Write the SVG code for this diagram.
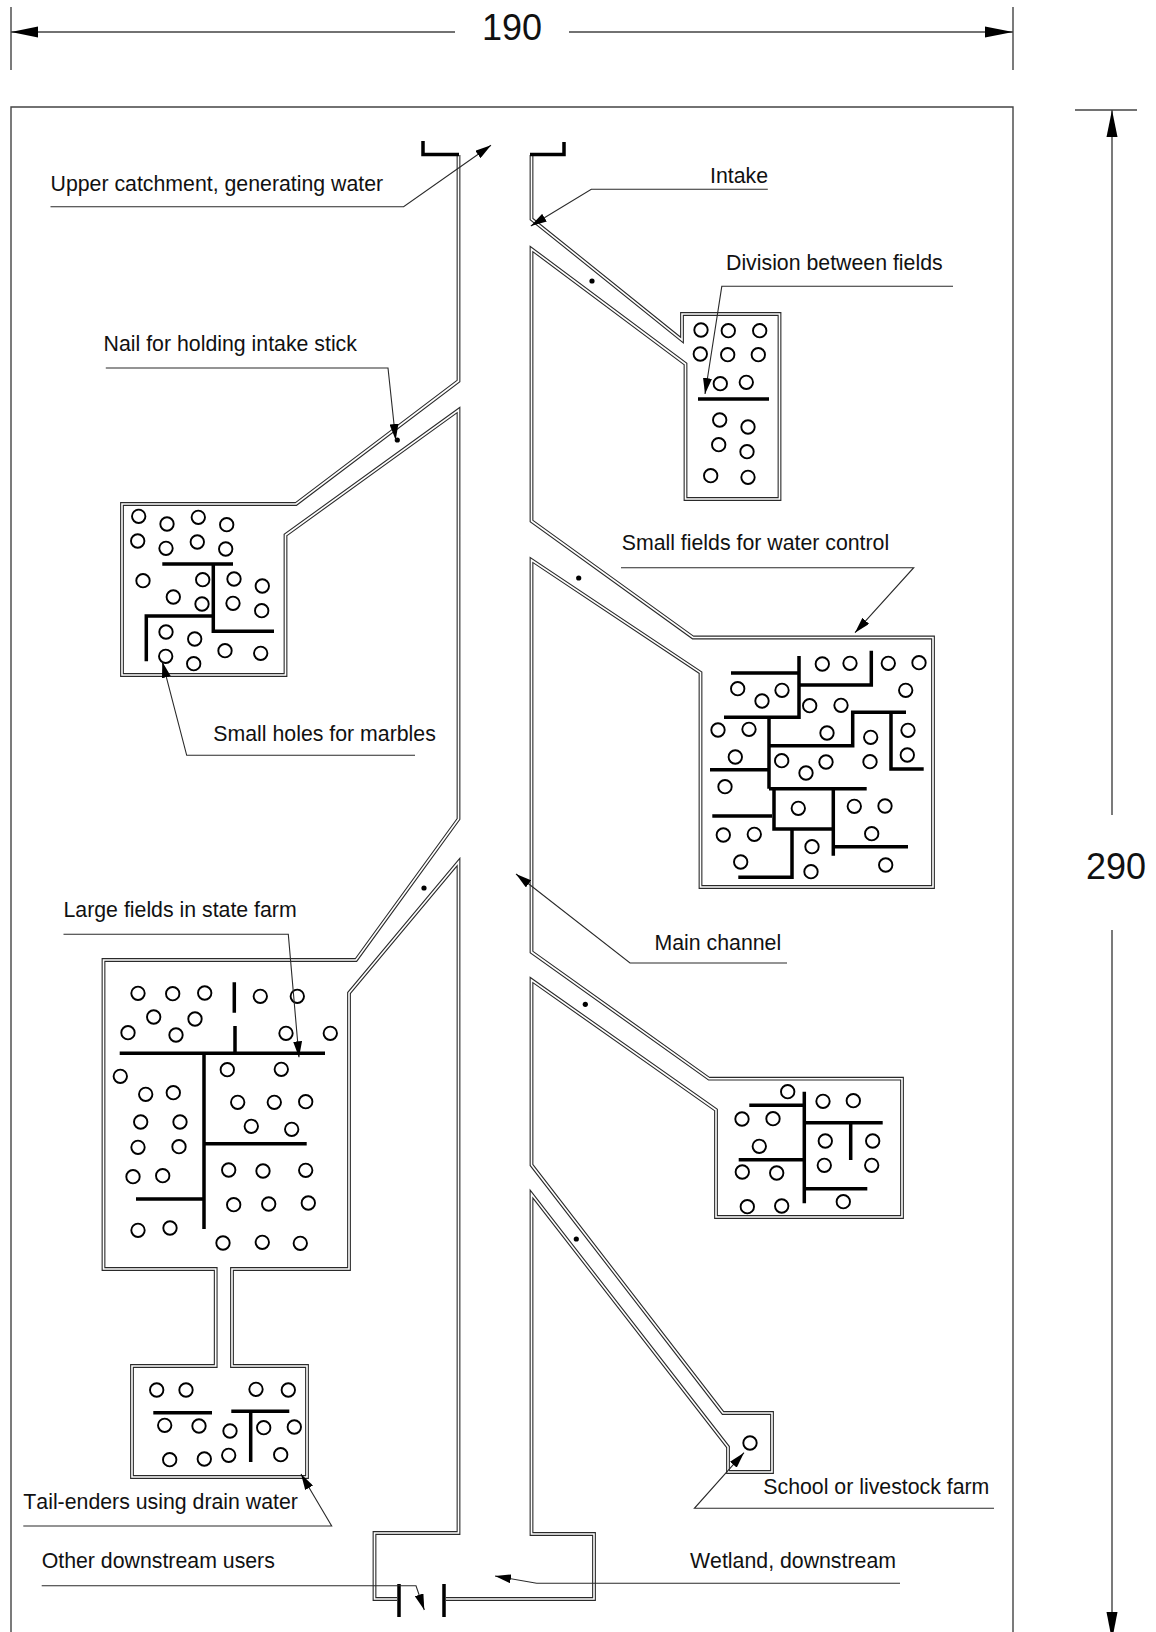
<svg xmlns="http://www.w3.org/2000/svg" xmlns:xlink="http://www.w3.org/1999/xlink" width="1156" height="1632" viewBox="0 0 1156 1632">
<style>
text{font-family:"Liberation Sans",Arial,sans-serif;font-size:21.3px;fill:#111;font-kerning:none}
.dim{font-size:36px}
.o{fill:none;stroke:#2a2a2a;stroke-width:3.8;stroke-linejoin:miter;stroke-miterlimit:12}
.i{fill:none;stroke:#fff;stroke-width:1.6;stroke-linejoin:miter;stroke-miterlimit:12}
.h{fill:#fff;stroke:#000;stroke-width:1.9}
.d{fill:#000}
.b{fill:none;stroke:#000;stroke-width:3.5;stroke-linejoin:miter}
.t{fill:none;stroke:#444;stroke-width:1.4}
.l{fill:none;stroke:#2a2a2a;stroke-width:1.1;marker-end:url(#ah)}
.a{fill:#000}
</style>
<defs>
<marker id="ah" markerUnits="userSpaceOnUse" viewBox="0 0 16 9" refX="16" refY="4.5" markerWidth="16" markerHeight="9" orient="auto"><path d="M0,0L16,4.5L0,9Z" fill="#000"/></marker>
<path id="wallL" d="M458.5,155V381L296,504H122V675H285.5V535L458.5,410V819L356,960H103.5V1269H215.7V1366H132V1477H307V1366H232V1269H349V993L458.5,862V1533H374.5V1599H397"/>
<path id="wallR" d="M531.5,155V219L682,340V314H779.5V499H685.5V364L531.5,249V521L693,637.5H933V887H700.5V672.7L531.5,560V952L709,1078.7H902V1217H716V1110L531.5,980V1165L723,1413H772V1472H728V1447L531.5,1194V1534H594V1599H446"/>
</defs>

<g id="frame">
<path class="t" d="M11,1632V107H1013V1632"/>
</g>

<g id="dimensions">
<path class="t" d="M11,7V70M1013,7V70M11,32H455M569,32H1013M1075,110H1137M1112,110V815M1112,930V1620"/>
<polygon class="a" points="11,32 38,26.5 38,37.5"/>
<polygon class="a" points="1013,32 985,26.5 985,37.5"/>
<polygon class="a" points="1112,110 1106.5,137 1117.5,137"/>
<polygon class="a" points="1106.5,1612 1117.5,1612 1113.6,1632 1110.4,1632"/>
<text class="dim" x="482" y="40">190</text>
<text class="dim" x="1086" y="879">290</text>
</g>

<g id="channel">
<use href="#wallL" class="o"/><use href="#wallR" class="o"/>
<use href="#wallL" class="i"/><use href="#wallR" class="i"/>
<path class="b" d="M423,141V154.5H459M530,154.5H564V142"/>
<path class="b" d="M399,1584V1617M444,1584V1617"/>
</g>

<g id="nails">
<circle class="d" cx="397.3" cy="440" r="2.6"/>
<circle class="d" cx="592" cy="281" r="2.6"/>
<circle class="d" cx="578.7" cy="578" r="2.6"/>
<circle class="d" cx="424" cy="888" r="2.6"/>
<circle class="d" cx="585.3" cy="1004.3" r="2.6"/>
<circle class="d" cx="576.3" cy="1239" r="2.6"/>
</g>

<g id="field-division">
<path class="b" d="M698,399H769"/>
<circle class="h" r="6.7" cx="701" cy="330"/><circle class="h" r="6.7" cx="728.3" cy="330.7"/><circle class="h" r="6.7" cx="759.7" cy="330.7"/>
<circle class="h" r="6.7" cx="700.3" cy="354"/><circle class="h" r="6.7" cx="727.7" cy="354.7"/><circle class="h" r="6.7" cx="758.3" cy="354.7"/>
<circle class="h" r="6.7" cx="720.3" cy="383.7"/><circle class="h" r="6.7" cx="746.3" cy="382.3"/>
<circle class="h" r="6.7" cx="719.7" cy="420"/><circle class="h" r="6.7" cx="748" cy="427"/>
<circle class="h" r="6.7" cx="718.7" cy="444.7"/><circle class="h" r="6.7" cx="747" cy="451.7"/>
<circle class="h" r="6.7" cx="710.7" cy="475.7"/><circle class="h" r="6.7" cx="748" cy="477.3"/>
</g>

<g id="field-left">
<path class="b" d="M162.3,564H233M213.3,564V631.3H274M146.3,661.3V616H213"/>
<circle class="h" r="6.7" cx="138.7" cy="516.3"/><circle class="h" r="6.7" cx="167" cy="524"/><circle class="h" r="6.7" cx="198.3" cy="517.3"/><circle class="h" r="6.7" cx="226.7" cy="524.7"/>
<circle class="h" r="6.7" cx="137.7" cy="541"/><circle class="h" r="6.7" cx="166" cy="548.3"/><circle class="h" r="6.7" cx="197.3" cy="542"/><circle class="h" r="6.7" cx="225.7" cy="549"/>
<circle class="h" r="6.7" cx="143" cy="580.7"/><circle class="h" r="6.7" cx="202.7" cy="579.7"/><circle class="h" r="6.7" cx="234" cy="579"/><circle class="h" r="6.7" cx="262.3" cy="586"/>
<circle class="h" r="6.7" cx="173.3" cy="597"/><circle class="h" r="6.7" cx="202" cy="604"/><circle class="h" r="6.7" cx="233" cy="603.3"/><circle class="h" r="6.7" cx="261.7" cy="610.7"/>
<circle class="h" r="6.7" cx="166" cy="632"/><circle class="h" r="6.7" cx="194.7" cy="639"/><circle class="h" r="6.7" cx="165.7" cy="656.3"/><circle class="h" r="6.7" cx="193.7" cy="663.7"/>
<circle class="h" r="6.7" cx="225" cy="650.7"/><circle class="h" r="6.7" cx="260.7" cy="653.3"/>
</g>

<g id="field-control">
<path class="b" d="M731,673H799M799,656V717.3H724M799,685H871.3V650.7M769,717.3V788.7M769,745.7H852.7V712.3H906M891,712.3V769H923.7M710,769.7H769M769,788.7H866.7M774,788.7V829H833.3M833.3,788.7V855.7M833.3,846.7H908M712.3,816H772M792,829V877.3H738.3"/>
<circle class="h" r="6.7" cx="822.3" cy="664"/><circle class="h" r="6.7" cx="850" cy="663.3"/><circle class="h" r="6.7" cx="888.3" cy="663.3"/><circle class="h" r="6.7" cx="919" cy="662.7"/><circle class="h" r="6.7" cx="905.7" cy="690.3"/>
<circle class="h" r="6.7" cx="737.7" cy="688.7"/><circle class="h" r="6.7" cx="782" cy="690.3"/><circle class="h" r="6.7" cx="762" cy="701"/>
<circle class="h" r="6.7" cx="809.7" cy="705.7"/><circle class="h" r="6.7" cx="841" cy="705.3"/>
<circle class="h" r="6.7" cx="718" cy="730"/><circle class="h" r="6.7" cx="749" cy="729.3"/><circle class="h" r="6.7" cx="827" cy="733"/><circle class="h" r="6.7" cx="870.7" cy="737.3"/><circle class="h" r="6.7" cx="908" cy="730.3"/><circle class="h" r="6.7" cx="907.3" cy="755"/>
<circle class="h" r="6.7" cx="735.3" cy="757"/><circle class="h" r="6.7" cx="781.7" cy="760.7"/><circle class="h" r="6.7" cx="826" cy="762"/><circle class="h" r="6.7" cx="870" cy="761.7"/><circle class="h" r="6.7" cx="806" cy="773"/>
<circle class="h" r="6.7" cx="725" cy="786.7"/>
<circle class="h" r="6.7" cx="854.3" cy="806.3"/><circle class="h" r="6.7" cx="885" cy="806"/><circle class="h" r="6.7" cx="798.3" cy="808.3"/>
<circle class="h" r="6.7" cx="723.3" cy="835"/><circle class="h" r="6.7" cx="754.3" cy="834.3"/><circle class="h" r="6.7" cx="871.7" cy="833.7"/>
<circle class="h" r="6.7" cx="740.7" cy="862"/><circle class="h" r="6.7" cx="812" cy="846.7"/><circle class="h" r="6.7" cx="811" cy="871.7"/><circle class="h" r="6.7" cx="885.7" cy="865"/>
</g>

<g id="field-state-farm">
<path class="b" d="M234.3,982.3V1012.7M235,1026V1053.3M119.7,1053.3H325M204,1053.3V1229M204,1143.7H306.7M136,1199H204"/>
<circle class="h" r="6.7" cx="138" cy="993.3"/><circle class="h" r="6.7" cx="172.7" cy="993.7"/><circle class="h" r="6.7" cx="204.7" cy="993"/><circle class="h" r="6.7" cx="260.3" cy="996.3"/><circle class="h" r="6.7" cx="297.3" cy="996.3"/>
<circle class="h" r="6.7" cx="153.7" cy="1017"/><circle class="h" r="6.7" cx="195" cy="1019"/><circle class="h" r="6.7" cx="128" cy="1032.7"/><circle class="h" r="6.7" cx="176" cy="1035"/><circle class="h" r="6.7" cx="286" cy="1033.3"/><circle class="h" r="6.7" cx="330.3" cy="1033.3"/>
<circle class="h" r="6.7" cx="227.3" cy="1069.7"/><circle class="h" r="6.7" cx="281.3" cy="1069.3"/><circle class="h" r="6.7" cx="120.3" cy="1076.3"/>
<circle class="h" r="6.7" cx="145.7" cy="1094.3"/><circle class="h" r="6.7" cx="173.3" cy="1092.7"/><circle class="h" r="6.7" cx="237.7" cy="1102.3"/><circle class="h" r="6.7" cx="274.3" cy="1102.3"/><circle class="h" r="6.7" cx="305.7" cy="1101.7"/>
<circle class="h" r="6.7" cx="140.7" cy="1122"/><circle class="h" r="6.7" cx="180" cy="1122"/><circle class="h" r="6.7" cx="251.3" cy="1126.3"/><circle class="h" r="6.7" cx="291.7" cy="1129.3"/>
<circle class="h" r="6.7" cx="138" cy="1147.3"/><circle class="h" r="6.7" cx="179" cy="1146.7"/>
<circle class="h" r="6.7" cx="133" cy="1176.7"/><circle class="h" r="6.7" cx="162.7" cy="1175.7"/><circle class="h" r="6.7" cx="228.7" cy="1170"/><circle class="h" r="6.7" cx="263" cy="1171"/><circle class="h" r="6.7" cx="305.7" cy="1170.3"/>
<circle class="h" r="6.7" cx="233.7" cy="1204.7"/><circle class="h" r="6.7" cx="268.7" cy="1204"/><circle class="h" r="6.7" cx="308.3" cy="1203"/>
<circle class="h" r="6.7" cx="138" cy="1230.3"/><circle class="h" r="6.7" cx="170" cy="1228"/><circle class="h" r="6.7" cx="223" cy="1243"/><circle class="h" r="6.7" cx="262.3" cy="1242.3"/><circle class="h" r="6.7" cx="300.3" cy="1243.3"/>
</g>

<g id="field-right-lower">
<path class="b" d="M804.3,1091.7V1203.3M749.3,1105.3H804M804,1122.7H882.7M850.7,1122.7V1160M738.7,1159.7H804M804,1188.7H867.3"/>
<circle class="h" r="6.7" cx="787.7" cy="1091.7"/><circle class="h" r="6.7" cx="823" cy="1101.3"/><circle class="h" r="6.7" cx="853.3" cy="1100.7"/><circle class="h" r="6.7" cx="742" cy="1119"/><circle class="h" r="6.7" cx="773" cy="1118.7"/><circle class="h" r="6.7" cx="759.3" cy="1146.3"/>
<circle class="h" r="6.7" cx="825.3" cy="1141"/><circle class="h" r="6.7" cx="872.7" cy="1141"/><circle class="h" r="6.7" cx="824.3" cy="1165.3"/><circle class="h" r="6.7" cx="871.7" cy="1165.3"/><circle class="h" r="6.7" cx="742.3" cy="1172"/><circle class="h" r="6.7" cx="776.7" cy="1173"/>
<circle class="h" r="6.7" cx="843.3" cy="1201.7"/><circle class="h" r="6.7" cx="747.3" cy="1206.7"/><circle class="h" r="6.7" cx="781.7" cy="1206"/>
</g>

<g id="field-tail-enders">
<path class="b" d="M153.3,1412.7H212M231.3,1411.3H289.3M250.7,1411.3V1462"/>
<circle class="h" r="6.7" cx="156.7" cy="1390"/><circle class="h" r="6.7" cx="186" cy="1390"/><circle class="h" r="6.7" cx="256" cy="1389.3"/><circle class="h" r="6.7" cx="288.3" cy="1390"/>
<circle class="h" r="6.7" cx="164.7" cy="1425.3"/><circle class="h" r="6.7" cx="199" cy="1426"/><circle class="h" r="6.7" cx="230" cy="1431"/><circle class="h" r="6.7" cx="263.7" cy="1427.7"/><circle class="h" r="6.7" cx="294.3" cy="1427"/>
<circle class="h" r="6.7" cx="169.7" cy="1459.7"/><circle class="h" r="6.7" cx="204.3" cy="1459"/><circle class="h" r="6.7" cx="228.7" cy="1455.3"/><circle class="h" r="6.7" cx="280.7" cy="1454.7"/>
</g>

<g id="field-school">
<circle class="h" r="6.7" cx="750" cy="1443"/>
</g>

<g id="connectors">
<path class="l" d="M50.5,206.7H403.6L491,145.3"/>
<path class="l" d="M767.8,189.3H591.3L530.8,226"/>
<path class="l" d="M953,286.3H721.8L705,394"/>
<path class="l" d="M105.8,368H388L395.7,440"/>
<path class="l" d="M621,567.7H913.7L855,632.7"/>
<path class="l" d="M415,755.3H186.7L162.3,661.7"/>
<path class="l" d="M787,963H630L516,874"/>
<path class="l" d="M63.5,934.3H288.3L299,1057.3"/>
<path class="l" d="M23.3,1526H331.7L301,1474"/>
<path class="l" d="M994,1508.3H694.4L744,1452.7"/>
<path class="l" d="M900,1583.3H536.7L495,1576"/>
<path class="l" d="M41.7,1585.7H416L424.3,1610"/>
</g>

<g id="labels">
<text x="50.5" y="190.7">Upper catchment, generating water</text>
<text x="710" y="183">Intake</text>
<text x="726" y="270">Division between fields</text>
<text x="103.6" y="351">Nail for holding intake stick</text>
<text x="621.7" y="550">Small fields for water control</text>
<text x="213.3" y="741">Small holes for marbles</text>
<text x="654.5" y="950">Main channel</text>
<text x="63.5" y="917">Large fields in state farm</text>
<text x="23.3" y="1509">Tail-enders using drain water</text>
<text x="763.3" y="1494">School or livestock farm</text>
<text x="41.7" y="1568">Other downstream users</text>
<text x="690" y="1568">Wetland, downstream</text>
</g>
</svg>
